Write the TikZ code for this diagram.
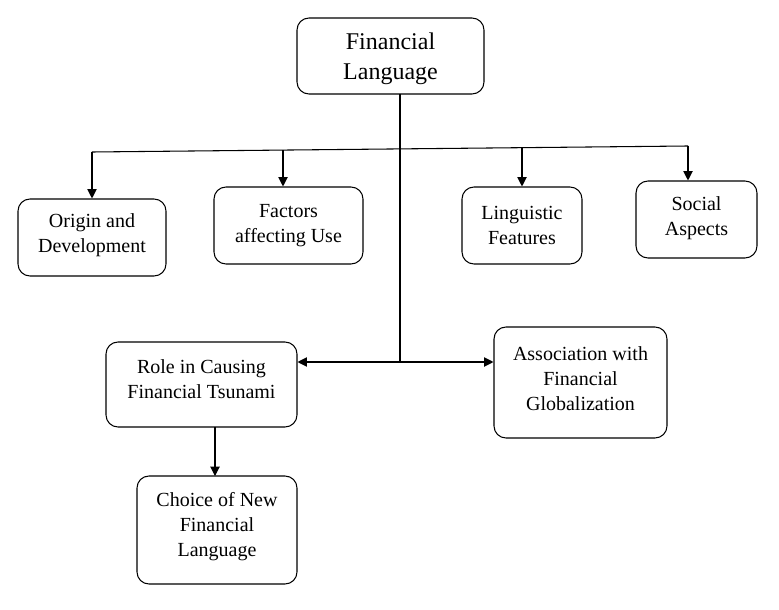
\documentclass[tikz,border=0pt]{standalone}
\usepackage{fontspec}
\setmainfont{Liberation Serif}
\usetikzlibrary{arrows.meta,calc}
\begin{document}
\begin{tikzpicture}[x=0.75pt,y=-0.75pt,
  box/.style={draw=black,line width=0.8pt,rounded corners=9pt,inner sep=0pt},
  lbl/.style={align=center,inner sep=0pt,font=\rmfamily\fontsize{15}{18.75}\selectfont},
  toplbl/.style={align=center,inner sep=0pt,font=\rmfamily\fontsize{18}{22.5}\selectfont},
  ln/.style={draw=black,line width=0.8pt},
  arr/.style={ln,-{Triangle[length=7pt,width=7pt]}}]
\useasboundingbox (0,0) rectangle (779,610);
% boxes
\node[box,minimum width=140.25pt,minimum height=57pt] (top) at (390.5,56) {};
\node[toplbl] (topt) at (390.5,59) {Financial\\Language};
\node[box,minimum width=111pt,minimum height=57.75pt] (o) at (92,237.5) {};
\node[lbl] (ot) at (92,235.5) {Origin and\\Development};
\node[box,minimum width=111.75pt,minimum height=57.75pt] (f) at (288.5,225.5) {};
\node[lbl] (ft) at (288.5,225.5) {Factors\\affecting Use};
\node[box,minimum width=90pt,minimum height=57.75pt] (l) at (522,225.5) {};
\node[lbl] (lt) at (522,225.5) {Linguistic\\Features};
\node[box,minimum width=90.75pt,minimum height=57.75pt] (s) at (696.5,219.5) {};
\node[lbl] (st) at (696.5,218.5) {Social\\Aspects};
\node[box,minimum width=143.25pt,minimum height=63.75pt] (r) at (201.5,384.5) {};
\node[lbl] (rt) at (201.5,379.5) {Role in Causing\\Financial Tsunami};
\node[box,minimum width=129.75pt,minimum height=83.25pt] (a) at (580.5,382.5) {};
\node[lbl] (at) at (580.5,379) {Association with\\Financial\\Globalization};
\node[box,minimum width=120pt,minimum height=81pt] (c) at (217,530) {};
\node[lbl] (ct) at (217,527) {Choice of New\\Financial\\Language};
% coordinates
\coordinate (t0) at (400,94);
\coordinate (hub) at (400,362);
\coordinate (bl) at (92,152);
\coordinate (bf) at (283,150.1);
\coordinate (bg) at (522,147.7);
\coordinate (br) at (688,146);
\coordinate (rs) at (215,427);
\coordinate (cn) at (215,476);
% connectors
\draw[ln] (t0) -- (hub);
\draw[ln] (bl) -- (br);
\draw[arr] (bl) -- (o.north);
\draw[arr] (bf) -- (bf |- f.north);
\draw[arr] (bg) -- (l.north);
\draw[arr] (br) -- (br |- s.north);
\draw[arr] (hub) -- (r.east |- hub);
\draw[arr] (hub) -- (a.west |- hub);
\draw[arr] (rs) -- (cn);
\end{tikzpicture}
\end{document}
